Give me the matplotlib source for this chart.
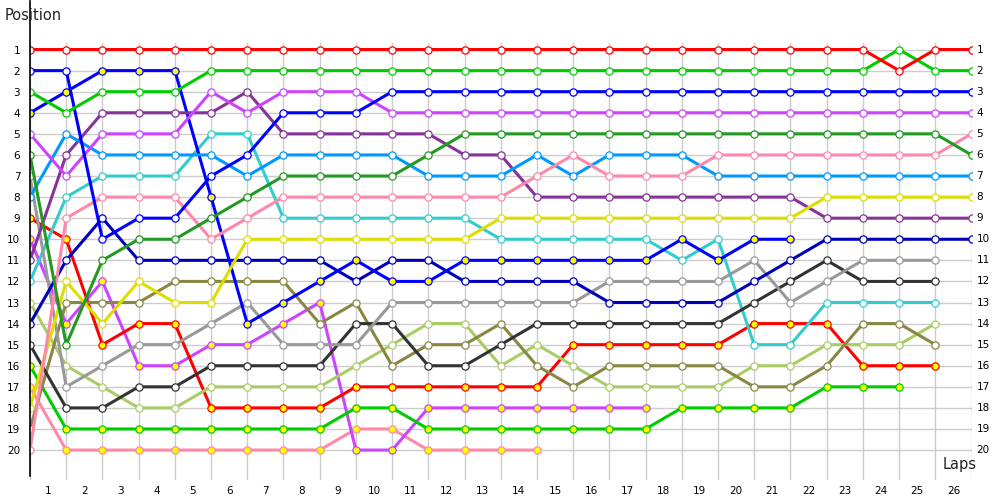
import matplotlib
matplotlib.use("Agg")
import matplotlib.pyplot as plt
from matplotlib.lines import Line2D

# ---- data: position of each driver after each lap (index = lap, 0 = start) ----
red_a    = [1]*24 + [2, 1, 1]
green_a  = [3, 4, 3, 3, 3] + [2]*19 + [1, 2, 2]
blue_a   = [2, 2, 10, 9, 9, 7, 6, 4, 4, 4] + [3]*17
violet_a = [5, 7, 5, 5, 5, 3, 4, 3, 3, 3] + [4]*17
dkgreen  = [6, 15, 11, 10, 10, 9, 8, 7, 7, 7, 7, 6] + [5]*14 + [6]
pink_a   = [20, 9, 8, 8, 8, 10, 9, 8, 8, 8, 8, 8, 8, 8, 7, 6, 7, 7, 7, 6, 6, 6, 6, 6, 6, 6, 5]
ltblue   = [8, 5, 6, 6, 6, 6, 7, 6, 6, 6, 6, 7, 7, 7, 6, 7, 6, 6, 6, 7, 7, 7, 7, 7, 7, 7, 7]
yellow   = [18, 12, 14, 12, 13, 13, 10, 10, 10, 10, 10, 10, 10, 9, 9, 9, 9, 9, 9, 9, 9, 9, 8, 8, 8, 8, 8]
purple   = [11, 6, 4, 4, 4, 4, 3, 5, 5, 5, 5, 5, 6, 6, 8, 8, 8, 8, 8, 8, 8, 8, 9, 9, 9, 9, 9]
navy     = [14, 11, 9, 11, 11, 11, 11, 11, 11, 12, 11, 11, 12, 12, 12, 12, 13, 13, 13, 13, 12, 11, 10, 10, 10, 10, 10]
gray     = [7, 17, 16, 15, 15, 14, 13, 15, 15, 15, 13, 13, 13, 13, 13, 13, 12, 12, 12, 12, 11, 13, 12, 11, 11, 11]
black    = [15, 18, 18, 17, 17, 16, 16, 16, 16, 14, 14, 16, 16, 15, 14, 14, 14, 14, 14, 14, 13, 12, 11, 12, 12, 12]
cyan     = [12, 8, 7, 7, 7, 5, 5, 9, 9, 9, 9, 9, 9, 10, 10, 10, 10, 10, 11, 10, 15, 15, 13, 13, 13, 13]
olive    = [19, 13, 13, 13, 12, 12, 12, 12, 14, 13, 16, 15, 15, 14, 16, 17, 16, 16, 16, 16, 17, 17, 16, 14, 14, 15]
ltgreen  = [13, 16, 17, 18, 18, 17, 17, 17, 17, 16, 15, 14, 14, 16, 15, 16, 17, 17, 17, 17, 16, 16, 15, 15, 15, 14]
red_b    = [9, 10, 15, 14, 14, 18, 18, 18, 18, 17, 17, 17, 17, 17, 17, 15, 15, 15, 15, 15, 14, 14, 14, 16, 16, 16]
green_b  = [16, 19, 19, 19, 19, 19, 19, 19, 19, 18, 18, 19, 19, 19, 19, 19, 19, 19, 18, 18, 18, 18, 17, 17, 17]
blue_b   = [4, 3, 2, 2, 2, 8, 14, 13, 12, 11, 12, 12, 11, 11, 11, 11, 11, 11, 10, 11, 10, 10]
violet_b = [10, 14, 12, 16, 16, 15, 15, 14, 13, 20, 20, 18, 18, 18, 18, 18, 18, 18]
pink_b   = [17, 20, 20, 20, 20, 20, 20, 20, 20, 19, 19, 20, 20, 20, 20]

positions = list(range(1, 21))
position_labels = [str(i) for i in positions]
lap_labels = [str(i) for i in range(1, 27)]

# (series, line colour, marker fill)
series = [
    (pink_b,   "#FF88AA", "#FFFF00"),
    (violet_b, "#CC44FF", "#FFFF00"),
    (green_b,  "#00CC00", "#FFFF00"),
    (red_b,    "#FF0000", "#FFFF00"),
    (ltgreen,  "#AACC66", "white"),
    (olive,    "#888844", "white"),
    (cyan,     "#33CCCC", "white"),
    (black,    "#333333", "white"),
    (gray,     "#999999", "white"),
    (navy,     "#0000BB", "white"),
    (blue_b,   "#0000FF", "#FFFF00"),
    (purple,   "#883399", "white"),
    (yellow,   "#DDDD00", "white"),
    (ltblue,   "#0099FF", "white"),
    (pink_a,   "#FF88AA", "white"),
    (dkgreen,  "#229922", "white"),
    (violet_a, "#CC44FF", "white"),
    (blue_a,   "#0000FF", "white"),
    (green_a,  "#00CC00", "white"),
    (red_a,    "#FF0000", "white"),
]

fig = plt.figure(figsize=(10, 5), dpi=100)
ax = fig.add_axes([0.030, 0.040, 0.9415, 0.874])

for vals, col, fill in series:
    ax.plot(range(len(vals)), vals, color=col, lw=2.2, marker="o", ms=5.2,
            mfc=fill, mec=col, mew=0.9, solid_joinstyle="round", zorder=3)

ax.set_xlim(0, 26)
ax.set_ylim(21.42, 0.69)

ax.set_xticks(range(27))
ax.set_xticklabels([])
ax.set_xticks([i + 0.5 for i in range(26)], minor=True)
ax.set_xticklabels(lap_labels, minor=True, fontsize=7.5)
ax.set_yticks(positions)
ax.set_yticklabels(position_labels, fontsize=7.5)
ax.tick_params(axis="x", which="both", length=0, pad=4)
ax.tick_params(axis="y", which="both", length=0, pad=7)

# right-hand position labels
for p, lab in zip(positions, position_labels):
    ax.annotate(lab, xy=(1.0, p), xycoords=("axes fraction", "data"),
                xytext=(3.5, 0), textcoords="offset points",
                ha="left", va="center", fontsize=7.5, annotation_clip=False)

ax.grid(True, which="major", color="#CCCCCC", lw=1.0, zorder=0)
for s in ax.spines.values():
    s.set_visible(False)
ax.set_axisbelow(True)

# left axis line
fig.add_artist(Line2D([0.030, 0.030], [0.048, 0.998], color="black", lw=1.2,
                      transform=fig.transFigure))

fig.text(0.005, 0.968, "Position", fontsize=10.5, color="#222222", ha="left", va="center")
fig.text(0.943, 0.072, "Laps", fontsize=10.5, color="#222222", ha="left", va="center")

fig.savefig("out.png", dpi=100)
